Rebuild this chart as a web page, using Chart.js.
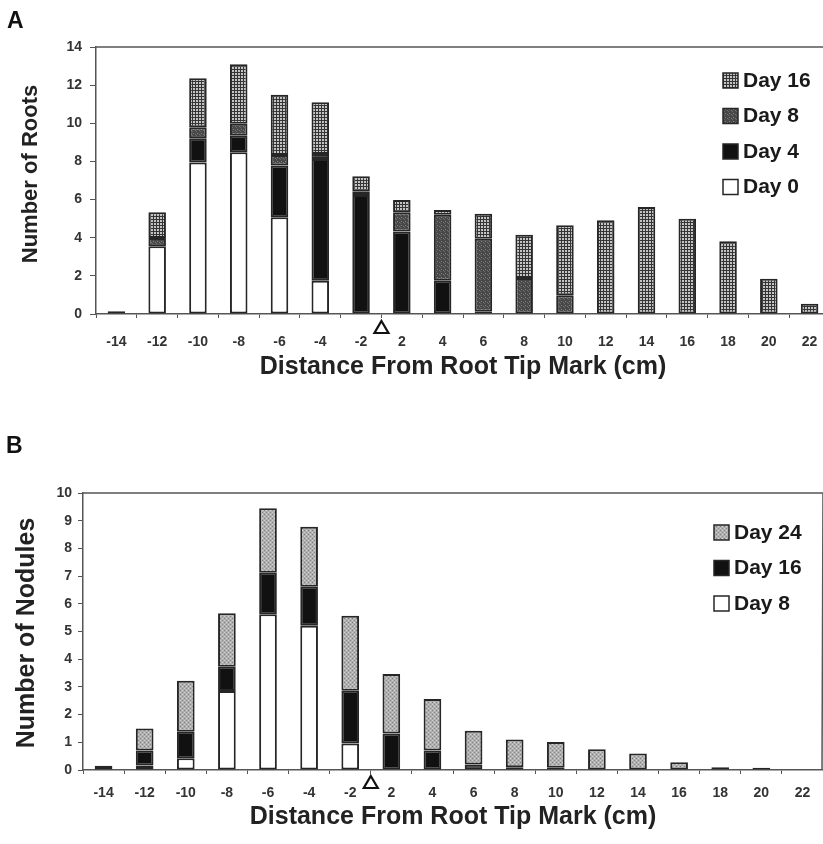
<!DOCTYPE html>
<html>
<head>
<meta charset="utf-8">
<script src="https://cdn.jsdelivr.net/npm/chart.js@4.4.1/dist/chart.umd.min.js"></script>
<style>
  html, body { margin: 0; padding: 0; background: #fff; overflow: hidden; width: 823px; height: 844px; }
  #wrapA { position: absolute; left: 0; top: 0; width: 840px; height: 420px; }
  #wrapB { position: absolute; left: 0; top: 430px; width: 823px; height: 414px; }
</style>
</head>
<body>
<div id="wrapA"><canvas id="chartA" width="840" height="420"></canvas></div>
<div id="wrapB"><canvas id="chartB" width="823" height="414"></canvas></div>
<script>
// distance categories (cm); the zero mark sits between -2 and 2
const distances = ['-14', '-12', '-10', '-8', '-6', '-4', '-2', '2', '4', '6', '8', '10', '12', '14', '16', '18', '20', '22'];

// panel A - number of roots
const rootsDay0  = [0, 3.55, 7.95, 8.48, 5.07, 1.75, 0, 0, 0, 0, 0, 0, 0, 0, 0, 0, 0, 0];
const rootsDay4  = [0, 0, 1.26, 0.87, 2.71, 6.38, 6.24, 4.32, 1.75, 0.12, 0, 0, 0, 0, 0, 0, 0, 0];
const rootsDay8  = [0.15, 0.44, 0.58, 0.62, 0.56, 0.26, 0.17, 1.01, 3.45, 3.83, 1.89, 0.98, 0, 0, 0, 0, 0, 0];
const rootsDay16 = [0, 1.34, 2.57, 3.13, 3.15, 2.71, 0.81, 0.65, 0.25, 1.31, 2.27, 3.67, 4.91, 5.61, 5.0, 3.81, 1.85, 0.54];

// panel B - number of nodules
const nodDay8  = [0, 0.16, 0.42, 2.85, 5.62, 5.21, 0.96, 0, 0, 0, 0, 0, 0, 0, 0, 0, 0, 0];
const nodDay16 = [0.15, 0.54, 0.96, 0.88, 1.5, 1.41, 1.9, 1.32, 0.7, 0.2, 0.1, 0.08, 0, 0, 0, 0, 0, 0];
const nodDay24 = [0, 0.8, 1.84, 1.93, 2.33, 2.16, 2.71, 2.15, 1.86, 1.22, 1.0, 0.93, 0.75, 0.6, 0.28, 0.1, 0.08, 0];

const FONT = '"Liberation Sans", Arial, Helvetica, sans-serif';
const INK = '#262626';

function makePattern(size, base, dots) {
  const c = document.createElement('canvas');
  c.width = size; c.height = size;
  const g = c.getContext('2d');
  g.fillStyle = base; g.fillRect(0, 0, size, size);
  dots.forEach(([x, y, w, h, col]) => { g.fillStyle = col; g.fillRect(x, y, w, h); });
  return g.createPattern(c, 'repeat');
}

// fills
const gridFill  = makePattern(3, '#c4c4c4', [[0, 0, 3, 1, '#353535'], [0, 0, 1, 3, '#353535']]);
const darkFill  = makePattern(4, '#484848', [[1, 1, 1, 1, '#858585'], [3, 2, 1, 1, '#777'], [0, 3, 1, 1, '#6a6a6a']]);
const lightFill = makePattern(4, '#b0b0b0', [[0, 0, 1, 1, '#7a7a7a'], [2, 2, 1, 1, '#8a8a8a'], [2, 0, 1, 1, '#d6d6d6'], [0, 2, 1, 1, '#cccccc']]);

function series(label, data, fill) {
  return {
    label, data,
    backgroundColor: fill,
    borderColor: INK,
    borderWidth: 2,
    borderSkipped: false,
    barPercentage: 0.43,
    categoryPercentage: 1
  };
}

const decor = {
  id: 'decor',
  beforeDatasetsDraw(chart, args, o) {
    const { ctx, chartArea: { left, right, top, bottom } } = chart;
    ctx.save();
    ctx.strokeStyle = '#555'; ctx.lineWidth = 1.5;
    ctx.beginPath(); ctx.moveTo(left, top); ctx.lineTo(right, top);
    if (o.rightLine) ctx.lineTo(right - 1, bottom);
    ctx.stroke();
    ctx.restore();
  },
  afterDraw(chart, args, o) {
    const { ctx, chartArea: { bottom } } = chart;
    const xs = chart.scales.x;
    const i = distances.indexOf('2');
    ctx.save();
    // triangle at the root tip mark
    const tx = (xs.getPixelForValue(i - 1) + xs.getPixelForValue(i)) / 2;
    const ty = bottom + o.triTop;
    ctx.beginPath();
    ctx.moveTo(tx, ty); ctx.lineTo(tx + 7, ty + 12); ctx.lineTo(tx - 7, ty + 12); ctx.closePath();
    ctx.fillStyle = '#fff'; ctx.fill();
    ctx.lineWidth = 2.2; ctx.strokeStyle = '#111'; ctx.lineJoin = 'miter'; ctx.stroke();

    // legend inside the plot, last series on top
    ctx.textBaseline = 'middle'; ctx.textAlign = 'left';
    ctx.font = 'bold 21px ' + FONT;
    const ds = chart.data.datasets.slice().reverse();
    ds.forEach((d, k) => {
      const y = o.legY + k * o.legGap;
      ctx.fillStyle = d.backgroundColor;
      ctx.fillRect(o.legX, y - 7, 15, 15);
      ctx.lineWidth = 1.5; ctx.strokeStyle = INK;
      ctx.strokeRect(o.legX, y - 7, 15, 15);
      ctx.fillStyle = '#1a1a1a';
      ctx.fillText(d.label, o.legX + 20, y + 1);
    });

    // y title
    ctx.save();
    ctx.translate(o.yTitleX, o.yTitleY);
    ctx.rotate(-Math.PI / 2);
    ctx.textAlign = 'center';
    ctx.font = 'bold ' + o.yTitleSize + 'px ' + FONT;
    ctx.fillStyle = '#222';
    ctx.fillText(o.yTitle, 0, 0);
    ctx.restore();

    // panel letter
    ctx.font = 'bold 23px ' + FONT;
    ctx.textBaseline = 'alphabetic';
    ctx.fillStyle = '#111';
    ctx.fillText(o.letter, o.letterX, o.letterY);
    ctx.restore();
  }
};

function makeChart(id, datasets, cfg) {
  return new Chart(document.getElementById(id), {
    type: 'bar',
    data: { labels: distances, datasets },
    options: {
      responsive: false,
      animation: false,
      layout: { padding: cfg.padding },
      plugins: {
        legend: { display: false },
        tooltip: { enabled: false },
        decor: cfg.decor
      },
      scales: {
        x: {
          stacked: true,
          afterFit: s => { s.height = cfg.xHeight; },
          grid: { display: true, drawOnChartArea: false, tickLength: 4, color: '#555', offset: true },
          border: { display: true, color: '#555', width: 1.5 },
          ticks: { color: '#333', padding: cfg.xTickPad, font: { family: FONT, size: 14, weight: 'bold' } },
          title: {
            display: true, text: 'Distance From Root Tip Mark (cm)', color: '#222',
            padding: { top: 0, bottom: 0 }, font: { family: FONT, size: 25, weight: 'bold' }
          }
        },
        y: {
          stacked: true,
          min: 0, max: cfg.yMax,
          afterFit: s => { s.width = cfg.yWidth; },
          grid: { display: true, drawOnChartArea: false, tickLength: cfg.yTickLen, color: '#555' },
          border: { display: true, color: '#555', width: 1.5 },
          ticks: { stepSize: cfg.yStep, color: '#333', padding: cfg.yTickPad, font: { family: FONT, size: 14, weight: 'bold' } }
        }
      }
    },
    plugins: [decor]
  });
}

makeChart('chartA', [
  series('Day 0', rootsDay0, '#ffffff'),
  series('Day 4', rootsDay4, '#111111'),
  series('Day 8', rootsDay8, darkFill),
  series('Day 16', rootsDay16, gridFill)
], {
  padding: { top: 47, left: 0, right: 10, bottom: 38 },
  xHeight: 68, yWidth: 96, yMax: 14, yStep: 2, yTickLen: 6, yTickPad: 8, xTickPad: 16,
  decor: {
    triTop: 7, rightLine: false,
    legX: 723, legY: 80, legGap: 35.5,
    yTitle: 'Number of Roots', yTitleSize: 22, yTitleX: 31, yTitleY: 174,
    letter: 'A', letterX: 7, letterY: 28
  }
});

makeChart('chartB', [
  series('Day 8', nodDay8, '#ffffff'),
  series('Day 16', nodDay16, '#111111'),
  series('Day 24', nodDay24, lightFill)
], {
  padding: { top: 63, left: 0, right: 0, bottom: 12 },
  xHeight: 62, yWidth: 83, yMax: 10, yStep: 1, yTickLen: 5, yTickPad: 6, xTickPad: 11,
  decor: {
    triTop: 6, rightLine: true,
    legX: 714, legY: 102, legGap: 35.5,
    yTitle: 'Number of Nodules', yTitleSize: 25, yTitleX: 27, yTitleY: 203,
    letter: 'B', letterX: 6, letterY: 23
  }
});
</script>
</body>
</html>
